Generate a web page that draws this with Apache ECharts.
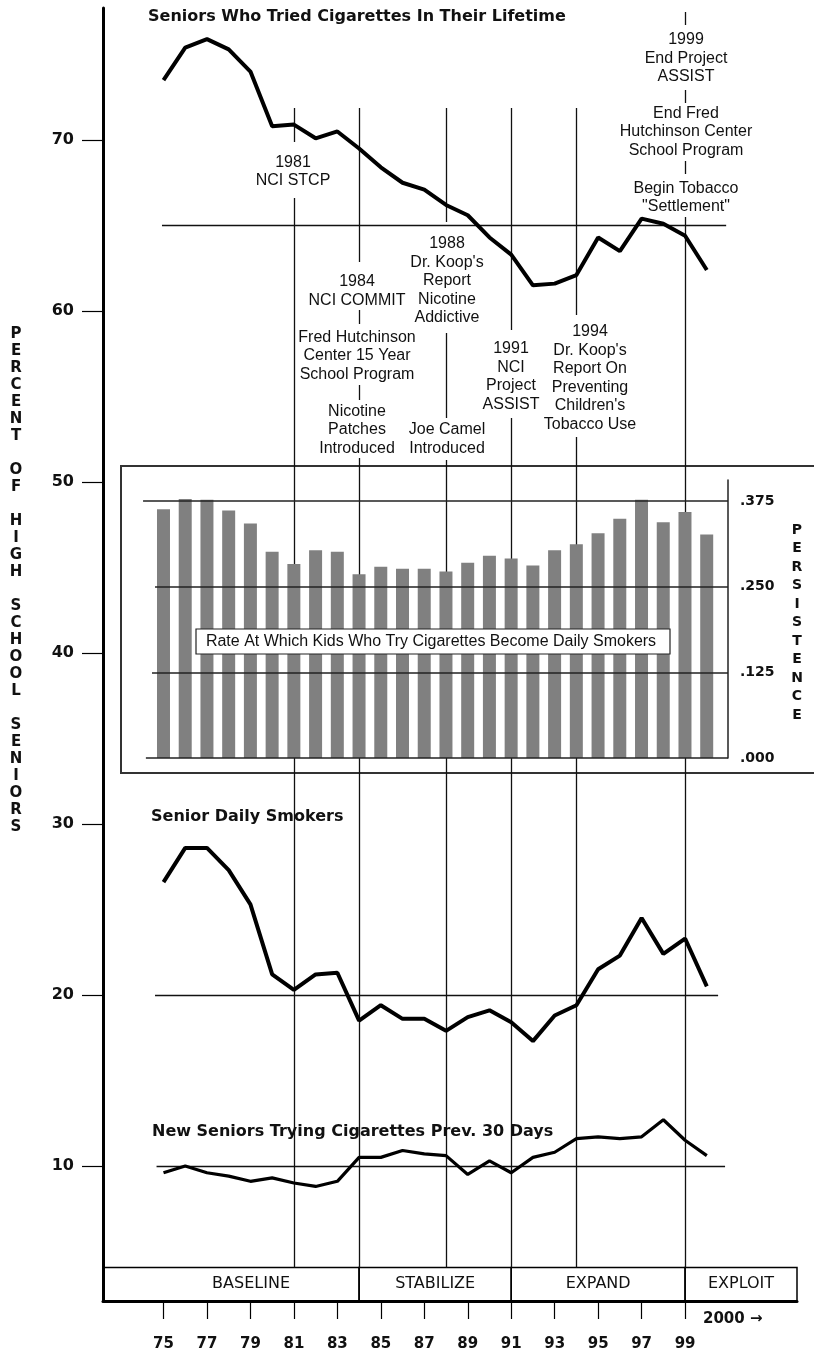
<!DOCTYPE html>
<html><head><meta charset="utf-8">
<script src="https://cdn.jsdelivr.net/npm/echarts@6/dist/echarts.min.js"></script>
<style>html,body{margin:0;padding:0;background:#fff}#c{width:814px;height:1357px}</style>
</head><body><div id="c"></div>
<script>
// ---- data ----
const years = [1975,1976,1977,1978,1979,1980,1981,1982,1983,1984,1985,1986,1987,1988,1989,1990,1991,1992,1993,1994,1995,1996,1997,1998,1999,2000];
const triedLifetime = [73.5,75.4,75.9,75.3,74.0,70.8,70.9,70.1,70.5,69.5,68.4,67.5,67.1,66.2,65.6,64.3,63.3,61.5,61.6,62.1,64.3,63.5,65.4,65.1,64.4,62.4];
const dailySmokers = [26.6,28.6,28.6,27.3,25.3,21.2,20.3,21.2,21.3,18.5,19.4,18.6,18.6,17.9,18.7,19.1,18.4,17.3,18.8,19.4,21.5,22.3,24.5,22.4,23.3,20.5];
const newTriers30Day = [9.6,10.0,9.6,9.4,9.1,9.3,9.0,8.8,9.1,10.5,10.5,10.9,10.7,10.6,9.5,10.3,9.6,10.5,10.8,11.6,11.7,11.6,11.7,12.7,11.5,10.6];
const persistence = [0.363,0.378,0.377,0.361,0.342,0.301,0.283,0.303,0.301,0.268,0.279,0.276,0.276,0.272,0.285,0.295,0.291,0.281,0.303,0.312,0.328,0.349,0.377,0.344,0.359,0.326];
const yTicks = [10,20,30,40,50,60,70];
const xTicks = [1975,1977,1979,1981,1983,1985,1987,1989,1991,1993,1995,1997,1999];
const persistenceTicks = [0,0.125,0.25,0.375];
const phases = [['BASELINE',null,1984],['STABILIZE',1984,1991],['EXPAND',1991,1999],['EXPLOIT',1999,null]];

// ---- layout ----
const W = 814, H = 1357;
const G = {left:103, right:17, top:8, bottom:56};
const X_MIN = 1972.216, X_MAX = 2004.15, X_MAX_BARS = 2000.98;
const Y_MIN = 2.1, Y_MAX = 77.72;
const yOf = py => Y_MIN + (H - G.bottom - py) * (Y_MAX - Y_MIN) / (H - G.bottom - G.top);
const BAND_TOP = yOf(1267.5);

const eventSegs = [
 [1981,108,142],[1981,198,1267.5],
 [1984,108,262],[1984,310,324],[1984,385,400],[1984,458,1267.5],
 [1988,108,222],[1988,333,418],[1988,460,1267.5],
 [1991,108,330],[1991,418,1267.5],
 [1994,108,315],[1994,437,1267.5],
 [1999,12,25],[1999,90,103],[1999,161,174],[1999,217,1267.5]
];
const refLines = [[1974.93,65,2000.89],[1974.61,20,2000.52],[1974.68,10,2000.84]];
const barRefLines = [[1974.06,0.375],[1974.61,0.25],[1974.47,0.125],[1974.19,0]];

const notes = [
 [293,171.5,'1981\nNCI STCP'],
 [357,291,'1984\nNCI COMMIT'],
 [357,356,'Fred Hutchinson\nCenter 15 Year\nSchool Program'],
 [357,430,'Nicotine\nPatches\nIntroduced'],
 [447,281,"1988\nDr. Koop's\nReport\nNicotine\nAddictive"],
 [447,439,'Joe Camel\nIntroduced'],
 [511,376.5,'1991\nNCI\nProject\nASSIST'],
 [590,378,"1994\nDr. Koop's\nReport On\nPreventing\nChildren's\nTobacco Use"],
 [686,58.5,'1999\nEnd Project\nASSIST'],
 [686,132,'End Fred\nHutchinson Center\nSchool Program'],
 [686,197.5,'Begin Tobacco\n"Settlement"']
];
const BOLD = 'bold 16px "DejaVu Sans"';
const REG = '16px "Liberation Sans"';

function txt(x,y,text,font,align,extra){
  return Object.assign({type:'text', z:100, style:{text, x, y, font, fill:'#111', align:align||'center', textAlign:align||'center', verticalAlign:'middle', textVerticalAlign:'middle', lineHeight:18.5}}, extra||{});
}

const graphics = [
  {type:'rect', z:0, shape:{x:121,y:466,width:700,height:307}, style:{fill:'none', stroke:'#333', lineWidth:2}},
  {type:'rect', z:100, shape:{x:196,y:629,width:474,height:25}, style:{fill:'#fff', stroke:'#222', lineWidth:1.2}},
  txt(431,642,'Rate At Which Kids Who Try Cigarettes Become Daily Smokers','16px "Liberation Sans"'),
  txt(148,17,'Seniors Who Tried Cigarettes In Their Lifetime',BOLD,'left'),
  txt(151,817,'Senior Daily Smokers',BOLD,'left'),
  txt(152,1132,'New Seniors Trying Cigarettes Prev. 30 Days',BOLD,'left'),
  txt(703,1319,'2000 \u2192','bold 15px "DejaVu Sans"','left'),
  {type:'text', z:100, style:{text:'P\nE\nR\nC\nE\nN\nT\n\nO\nF\n\nH\nI\nG\nH\n\nS\nC\nH\nO\nO\nL\n\nS\nE\nN\nI\nO\nR\nS', x:16, y:325.5, font:'bold 15px "DejaVu Sans"', fill:'#111', align:'center', textAlign:'center', verticalAlign:'top', textVerticalAlign:'top', lineHeight:17}},
  {type:'text', z:100, style:{text:'P\nE\nR\nS\nI\nS\nT\nE\nN\nC\nE', x:797, y:521, font:'bold 14px "DejaVu Sans"', fill:'#111', align:'center', textAlign:'center', verticalAlign:'top', textVerticalAlign:'top', lineHeight:18.5}}
].concat(notes.map(n => txt(n[0], n[1], n[2], REG)));

const pts = arr => years.map((y,i)=>[y, arr[i]]);

const option = {
  animation:false,
  backgroundColor:'#fff',
  grid:[
    {left:G.left, right:G.right, top:G.top, bottom:G.bottom},
    {left:G.left, right:W-728, top:480, bottom:H-758}
  ],
  xAxis:[
    {type:'value', gridIndex:0, min:X_MIN, max:X_MAX,
     axisLine:{show:true, lineStyle:{color:'#000', width:3}},
     axisTick:{show:true, length:18, customValues:xTicks, lineStyle:{color:'#000', width:1.2}},
     axisLabel:{customValues:xTicks, margin:36, formatter:v=>String(v).slice(2), fontFamily:'DejaVu Sans', fontWeight:'bold', fontSize:15, color:'#111'},
     splitLine:{show:false}},
    {type:'value', gridIndex:1, min:X_MIN, max:X_MAX_BARS, show:false, splitLine:{show:false}}
  ],
  yAxis:[
    {type:'value', gridIndex:0, min:Y_MIN, max:Y_MAX,
     axisLine:{show:true, lineStyle:{color:'#000', width:3}},
     axisTick:{show:true, length:21, customValues:yTicks, lineStyle:{color:'#000', width:1.2}},
     axisLabel:{customValues:yTicks, margin:29, fontFamily:'DejaVu Sans', fontWeight:'bold', fontSize:16, color:'#111'},
     splitLine:{show:false}},
    {type:'value', gridIndex:1, min:0, max:0.40564, position:'right',
     axisLine:{show:true, lineStyle:{color:'#222', width:1.5}},
     axisTick:{show:false},
     axisLabel:{customValues:persistenceTicks, margin:12, formatter:v=>'.'+String(Math.round(v*1000)).padStart(3,'0'), fontFamily:'DejaVu Sans', fontWeight:'bold', fontSize:14, color:'#111'},
     splitLine:{show:false}}
  ],
  graphic:graphics,
  series:[
    {type:'line', name:'decor', xAxisIndex:0, yAxisIndex:0, data:[], silent:true,
     markLine:{z:1, silent:true, symbol:['none','none'], label:{show:false},
       lineStyle:{color:'#111', width:1.3, type:'solid'},
       data: eventSegs.map(([yr,a,b])=>[{coord:[yr,yOf(a)]},{coord:[yr,yOf(b)]}])
         .concat(refLines.map(([a,v,b])=>[{coord:[a,v]},{coord:[b,v]}]))},
     markArea:{z:1, silent:true,
       itemStyle:{color:'rgba(0,0,0,0)', borderColor:'#000', borderWidth:1.5},
       label:{show:true, position:'inside', color:'#111', fontFamily:'DejaVu Sans', fontSize:16},
       data: phases.map(([name,a,b],i)=>[{name, xAxis:a===null?X_MIN:a, yAxis:Y_MIN, label:i===0?{offset:[20,0]}:{}},{xAxis:b===null?X_MAX:b, yAxis:BAND_TOP}])}
    },
    {type:'bar', name:'Persistence', xAxisIndex:1, yAxisIndex:1, data:pts(persistence), barWidth:13, z:4,
     itemStyle:{color:'#808080'},
     markLine:{z:5, silent:true, symbol:['none','none'], label:{show:false},
       lineStyle:{color:'#222', width:1.5, type:'solid'},
       data: barRefLines.map(([a,v])=>[{coord:[a,v]},{coord:[X_MAX_BARS,v]}])}},
    {type:'line', name:'Tried', xAxisIndex:0, yAxisIndex:0, data:pts(triedLifetime), symbol:'none', z:6,
     lineStyle:{color:'#000', width:4}},
    {type:'line', name:'Daily', xAxisIndex:0, yAxisIndex:0, data:pts(dailySmokers), symbol:'none', z:6,
     lineStyle:{color:'#000', width:4}},
    {type:'line', name:'New', xAxisIndex:0, yAxisIndex:0, data:pts(newTriers30Day), symbol:'none', z:6,
     lineStyle:{color:'#000', width:3.2}}
  ]
};
const chart = echarts.init(document.getElementById('c'), null, {renderer:'canvas'});
chart.setOption(option);
</script></body></html>
